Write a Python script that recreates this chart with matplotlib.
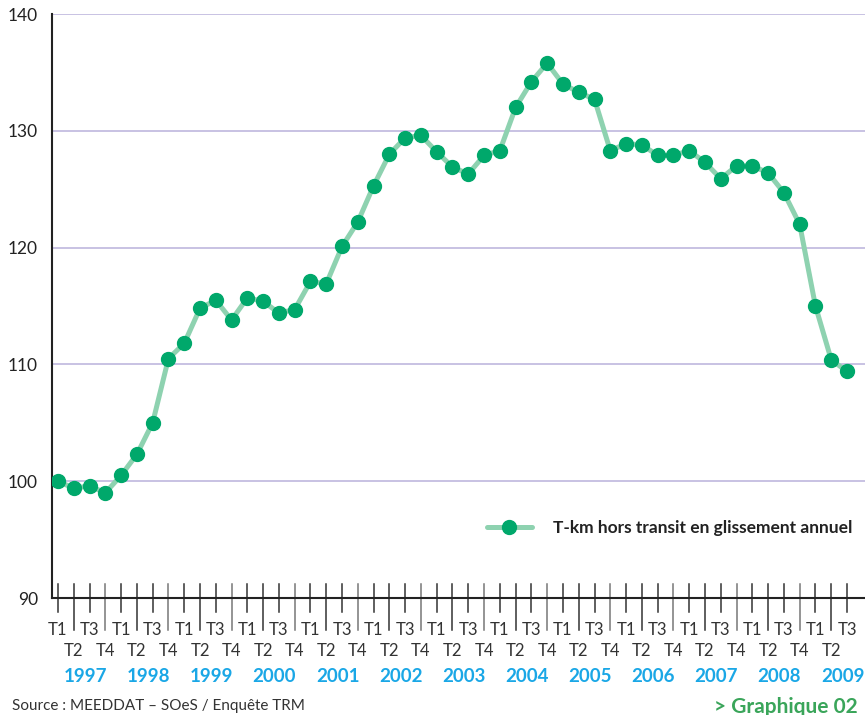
import numpy as np
import matplotlib
matplotlib.use("Agg")
import matplotlib.pyplot as plt

plt.rcParams['font.family'] = ['Lato', 'DejaVu Sans']

# indice T-km hors transit, glissement annuel (base 100 = 1997 T1)
years = ['1997', '1998', '1999', '2000', '2001', '2002', '2003',
         '2004', '2005', '2006', '2007', '2008', '2009']
quarters = ['T1', 'T2', 'T3', 'T4']
values = [100.0, 99.4, 99.6, 99.0,
          100.5, 102.3, 105.0, 110.5,
          111.8, 114.8, 115.5, 113.8,
          115.7, 115.4, 114.4, 114.7,
          117.1, 116.9, 120.1, 122.2,
          125.3, 128.0, 129.4, 129.6,
          128.2, 126.9, 126.3, 127.9,
          128.3, 132.0, 134.2, 135.8,
          134.0, 133.3, 132.7, 128.3,
          128.9, 128.8, 127.9, 127.9,
          128.3, 127.3, 125.9, 127.0,
          127.0, 126.4, 124.7, 122.0,
          115.0, 110.4, 109.4]
series_name = 'T-km hors transit en glissement annuel'

n = len(values)
x = np.arange(n)
qlabels = [quarters[i % 4] for i in range(n)]

fig = plt.figure(figsize=(8.65, 7.15), dpi=100)
ax = fig.add_axes([0.0601, 0.1636, 0.9399, 0.8168])

ax.set_ylim(90, 140)
ax.set_xlim(-0.38, 51.14)
ax.set_yticks([90, 100, 110, 120, 130, 140])
for g in [100, 110, 120, 130, 140]:
    ax.axhline(g, color='#c4bde0', lw=1.3, zorder=1)

ax.plot(x, values, color='#8ed2b0', lw=3.6, marker='o', markersize=10,
        markerfacecolor='#00a86b', markeredgecolor='#00a86b',
        label=series_name, zorder=3, solid_capstyle='round')

for s in ['top', 'right']:
    ax.spines[s].set_visible(False)
ax.spines['left'].set_color('#222222')
ax.spines['bottom'].set_color('#222222')
ax.spines['left'].set_linewidth(1.5)
ax.spines['bottom'].set_linewidth(1.5)

ax.tick_params(axis='y', length=0, pad=10, labelsize=12.5, labelcolor='#222222')
ax.set_xticks([])

# ticks crossing the axis, labels on two rows
trans = ax.get_xaxis_transform()
px = 1.0 / 584
for i in range(n):
    long_tick = i % 2 == 1
    bottom = -32 * px if long_tick else -14 * px
    col = '#777777' if i % 4 == 3 else '#333333'
    ax.plot([i, i], [14 * px, bottom], color=col, lw=1.1,
            transform=trans, clip_on=False, zorder=2)
    ty = -32 * px if not long_tick else -53 * px
    ax.text(i, ty, qlabels[i], transform=trans, ha='center', va='center',
            fontsize=12, color='#333333')

for k, yr in enumerate(years):
    ax.text(4 * k + 1.72, -78 * px, yr, transform=trans, ha='center',
            va='center', fontsize=13.5, fontweight='bold', color='#1aa7e6')

leg = ax.legend(loc='center right', frameon=False, fontsize=12.5,
                handlelength=2.6, handletextpad=1.2, borderaxespad=0)
leg.set_bbox_to_anchor((859 / 865, 1 - 528 / 715), transform=fig.transFigure)
for t in leg.get_texts():
    t.set_fontweight('bold')
    t.set_color('#222222')

fig.text(12 / 865, 1 - 706 / 715, 'Source : MEEDDAT \u2013 SOeS / Enquête TRM',
         ha='left', va='center', fontsize=11, color='#333333')
fig.text(858 / 865, 1 - 713 / 715, '> Graphique 02', ha='right',
         va='baseline', fontsize=15, fontweight='bold', color='#3aa55a')

fig.savefig('out.png', dpi=100)
